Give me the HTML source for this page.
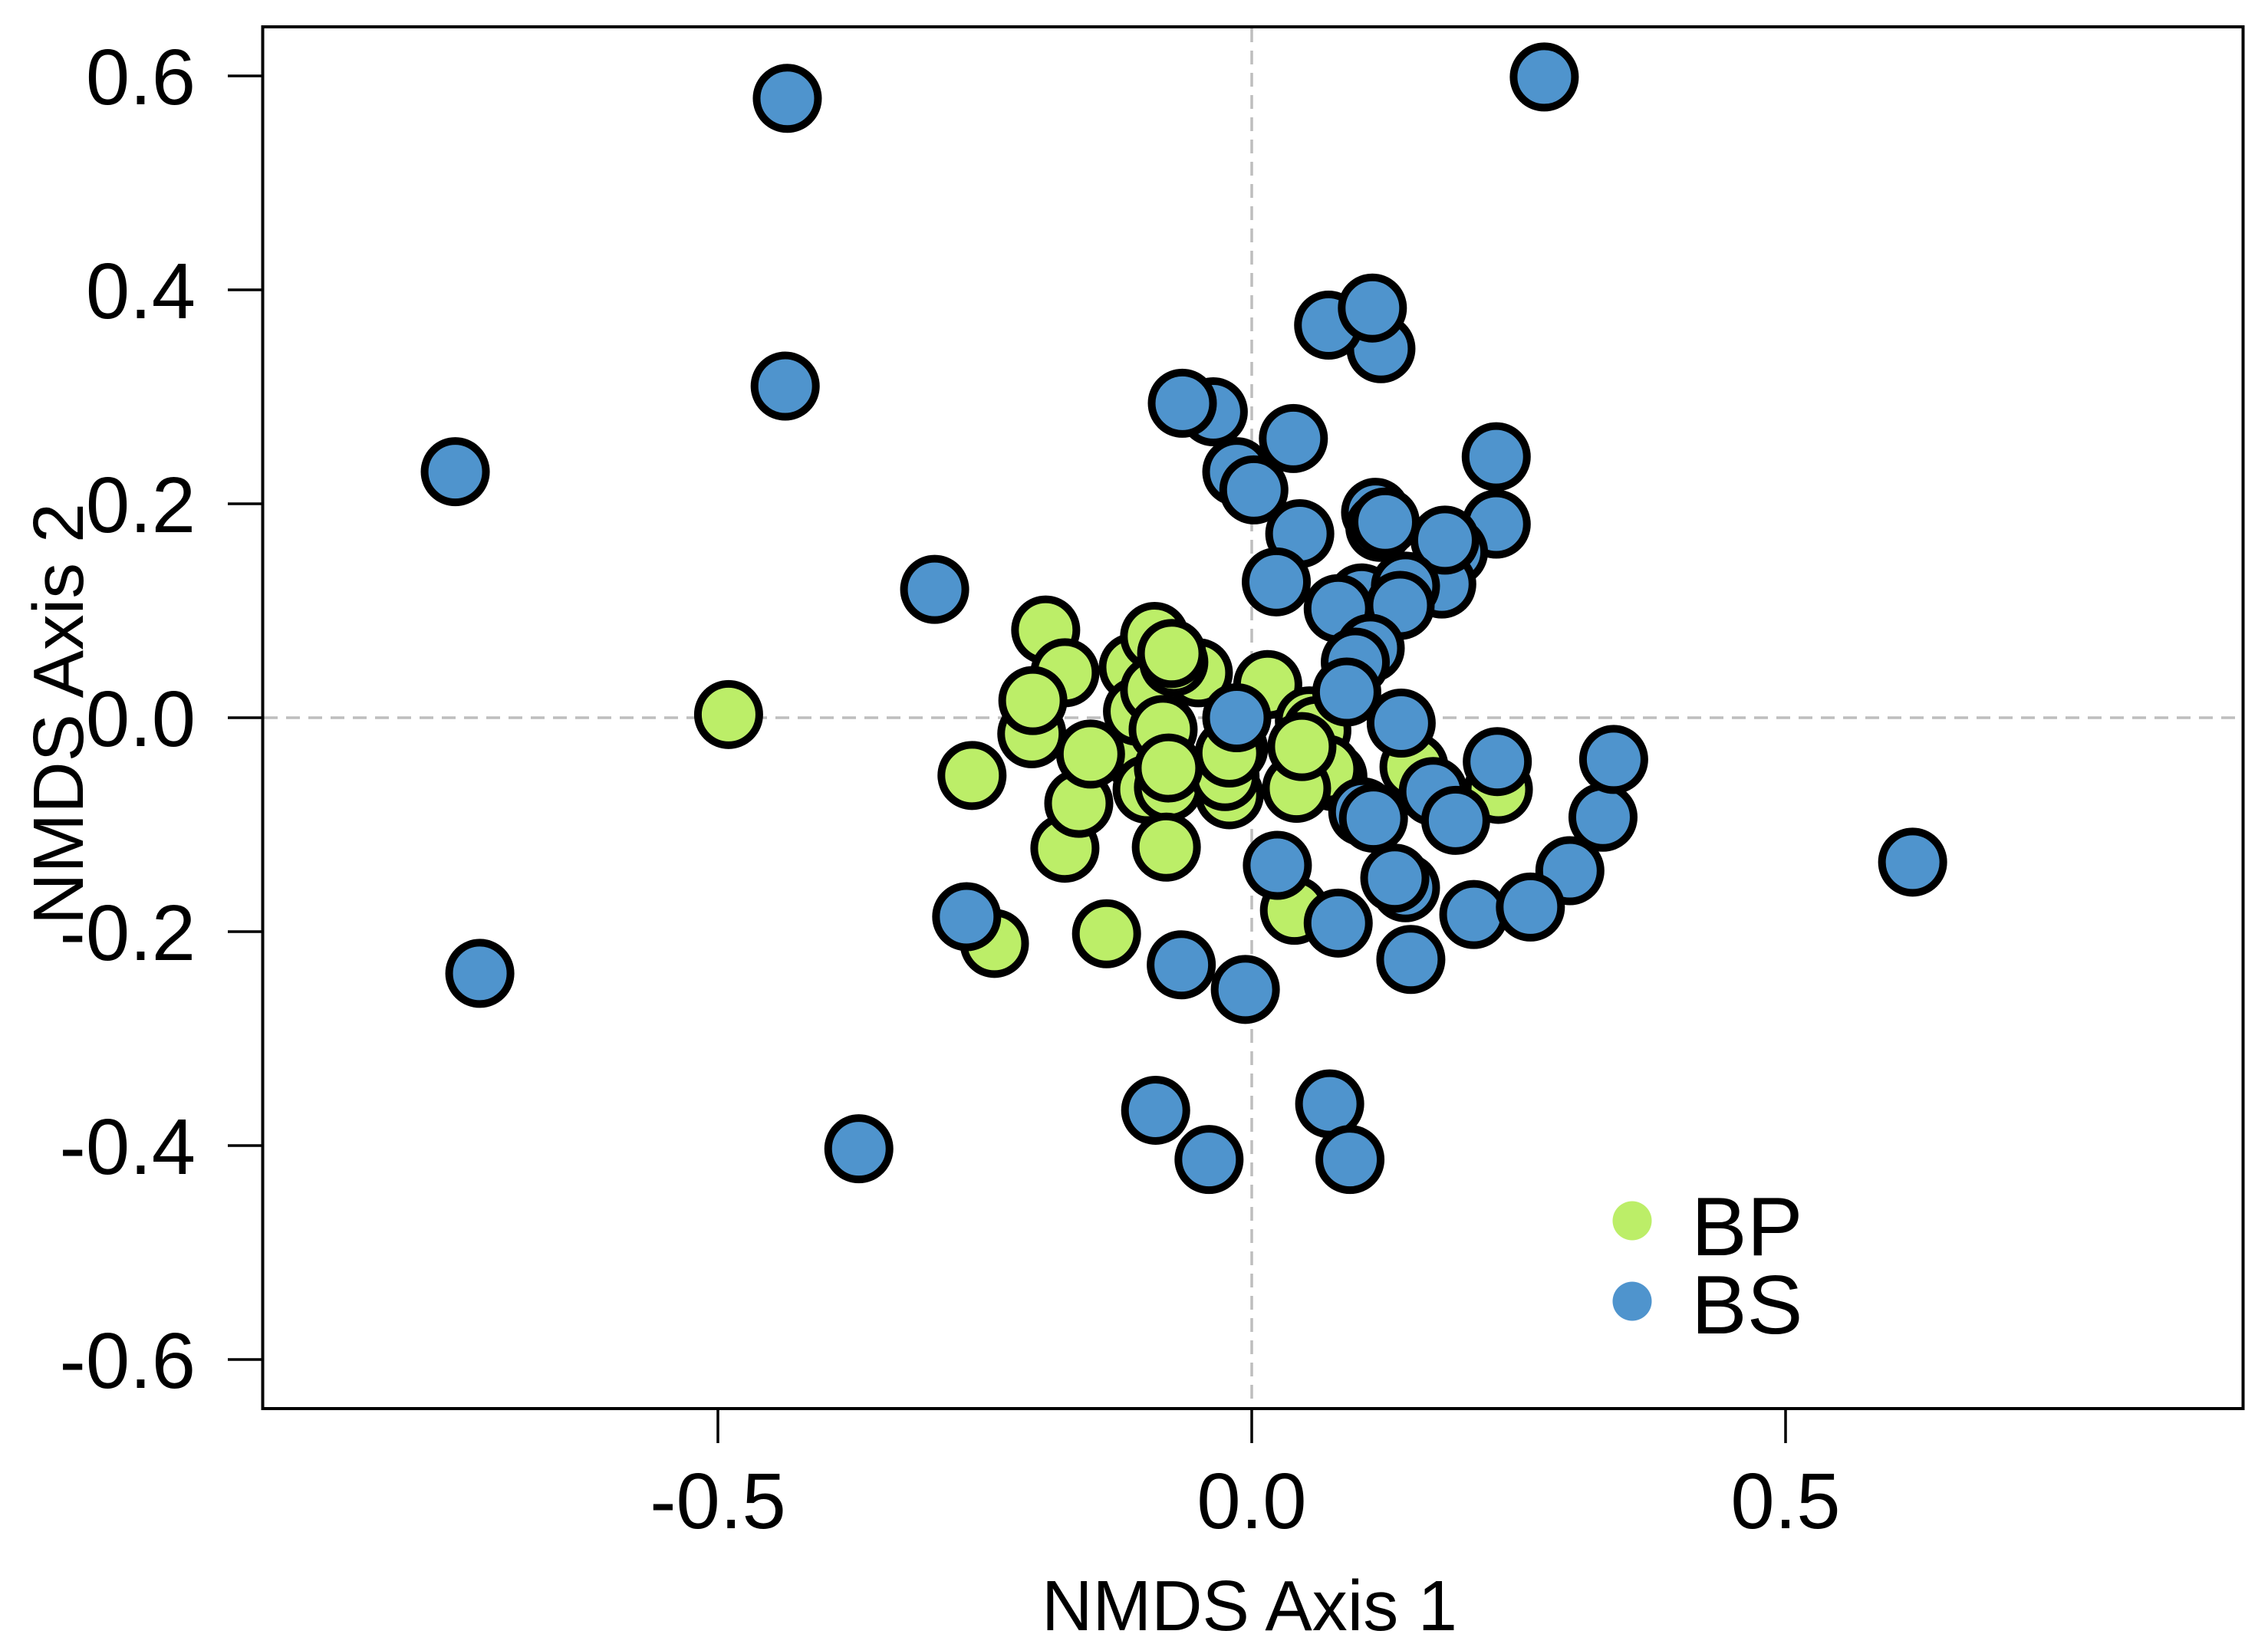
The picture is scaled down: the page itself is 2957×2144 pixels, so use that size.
<!DOCTYPE html>
<html>
<head>
<meta charset="utf-8">
<title>NMDS scatter plot</title>
<style>
html,body{margin:0;padding:0;background:#fff;}
svg{display:block;}
text{font-family:"Liberation Sans",Arial,sans-serif;fill:#000;}
</style>
</head>
<body>
<svg id="chart" xmlns="http://www.w3.org/2000/svg" width="2957" height="2144" viewBox="0 0 2957 2144">
  <rect x="0" y="0" width="2957" height="2144" fill="#ffffff"/>
  <g id="grid"></g>
  <g id="points-bp"></g>
  <g id="points-bs"></g>
  <rect x="342.5" y="35" width="2582" height="1802" fill="none" stroke="#000" stroke-width="4"/>
  <g id="x-axis"></g>
  <g id="y-axis"></g>
  <text x="1358" y="2126" font-size="93" textLength="542" lengthAdjust="spacingAndGlyphs">NMDS Axis 1</text>
  <text x="108" y="1206" font-size="93" transform="rotate(-90 108 1206)" textLength="550" lengthAdjust="spacingAndGlyphs">NMDS Axis 2</text>
  <g>
    <circle cx="2128" cy="1592" r="25.5" fill="#bcee68"/>
    <text x="2205" y="1637" font-size="109">BP</text>
    <circle cx="2128" cy="1697" r="25.5" fill="#4f94cd"/>
    <text x="2205" y="1739" font-size="109">BS</text>
  </g>
</svg>
<script>
var xTicks = [-0.5, 0, 0.5];
var xTickLabels = ["-0.5", "0.0", "0.5"];
var yTicks = [0.6, 0.4, 0.2, 0, -0.2, -0.4, -0.6];
var yTickLabels = ["0.6", "0.4", "0.2", "0.0", "-0.2", "-0.4", "-0.6"];

var bpX = [-0.490,-0.241,-0.136,-0.193,-0.175,-0.206,-0.205,-0.262,-0.175,-0.162,-0.109,-0.151,-0.111,-0.107,-0.091,-0.091,-0.050,-0.073,-0.083,-0.098,-0.078,-0.080,-0.021,-0.025,-0.017,-0.021,-0.078,-0.075,0.015,0.054,0.061,0.076,0.070,0.042,0.047,0.152,0.231,0.040];
var bpY = [0.003,-0.211,-0.202,0.082,0.042,-0.015,0.016,-0.054,-0.122,-0.080,-0.035,-0.034,0.047,0.006,0.076,0.026,0.042,0.052,-0.011,-0.067,-0.065,-0.121,-0.072,-0.055,-0.029,-0.033,-0.047,0.060,0.031,-0.003,-0.012,-0.055,-0.048,-0.066,-0.027,-0.046,-0.067,-0.180];

var bsX = [-0.435,0.274,-0.437,-0.746,-0.723,-0.368,-0.090,-0.040,0.073,0.092,0.619,-0.297,-0.267,-0.066,-0.006,0.149,0.081,0.144,0.134,0.208,0.298,0.261,0.329,0.339,0.024,0.230,0.170,0.191,0.104,0.114,0.140,-0.014,0.121,0.072,0.113,-0.036,-0.065,0.039,0.229,-0.014,0.002,0.229,0.116,0.120,0.125,0.189,0.178,0.181,0.045,0.023,0.103,0.144,0.081,0.139,0.111,0.097,0.089];
var bsY = [0.579,0.599,0.310,0.230,-0.239,-0.403,-0.367,-0.413,-0.361,-0.413,-0.135,0.120,-0.186,-0.231,-0.254,-0.226,-0.192,-0.159,-0.150,-0.184,-0.143,-0.177,-0.093,-0.039,-0.138,-0.041,-0.069,-0.096,-0.088,-0.094,-0.005,0.000,0.345,0.367,0.383,0.286,0.294,0.261,0.244,0.230,0.213,0.181,0.192,0.178,0.183,0.155,0.125,0.166,0.172,0.127,0.112,0.123,0.102,0.105,0.065,0.052,0.024];

var NS = "http://www.w3.org/2000/svg";

function xScale(v) { return 1632 + 1392 * v; }
function yScale(v) { return 936 - 1395 * v; }

function make(tag, attrs) {
  var el = document.createElementNS(NS, tag);
  for (var k in attrs) { el.setAttribute(k, attrs[k]); }
  return el;
}

var grid = document.getElementById("grid");
var hLine = make("line", {x1: 344, x2: 2923, y1: yScale(0), y2: yScale(0), stroke: "#bebebe", "stroke-width": 3.5, "stroke-dasharray": "18 11"});


grid.appendChild(hLine);
var vLine = make("line", {x1: xScale(0), x2: xScale(0), y1: 37, y2: 1835, stroke: "#bebebe", "stroke-width": 3.5, "stroke-dasharray": "18 11"});


grid.appendChild(vLine);

function drawPoints(groupId, xs, ys, fill, pointName) {
  var g = document.getElementById(groupId);
  for (var i = 0; i < xs.length; i++) {
    var c = make("circle", {cx: xScale(xs[i]), cy: yScale(ys[i]), r: 40, fill: fill, stroke: "#000", "stroke-width": 10});
    
    
    g.appendChild(c);
  }
}
drawPoints("points-bp", bpX, bpY, "#bcee68", "point-bp");
drawPoints("points-bs", bsX, bsY, "#4f94cd", "point-bs");

var xAxis = document.getElementById("x-axis");
xTicks.forEach(function (t, i) {
  var line = make("line", {x1: xScale(t), x2: xScale(t), y1: 1837, y2: 1882, stroke: "#000", "stroke-width": 3.5});
  
  
  xAxis.appendChild(line);
  var label = make("text", {x: xScale(t), y: 1993, "font-size": 103, "text-anchor": "middle"});
  
  
  label.textContent = xTickLabels[i];
  xAxis.appendChild(label);
});

var yAxis = document.getElementById("y-axis");
yTicks.forEach(function (t, i) {
  var line = make("line", {x1: 297, x2: 342, y1: yScale(t), y2: yScale(t), stroke: "#000", "stroke-width": 3.5});
  
  
  yAxis.appendChild(line);
  var label = make("text", {x: 255, y: yScale(t) + 37, "font-size": 103, "text-anchor": "end"});
  
  
  label.textContent = yTickLabels[i];
  yAxis.appendChild(label);
});
</script>
</body>
</html>
